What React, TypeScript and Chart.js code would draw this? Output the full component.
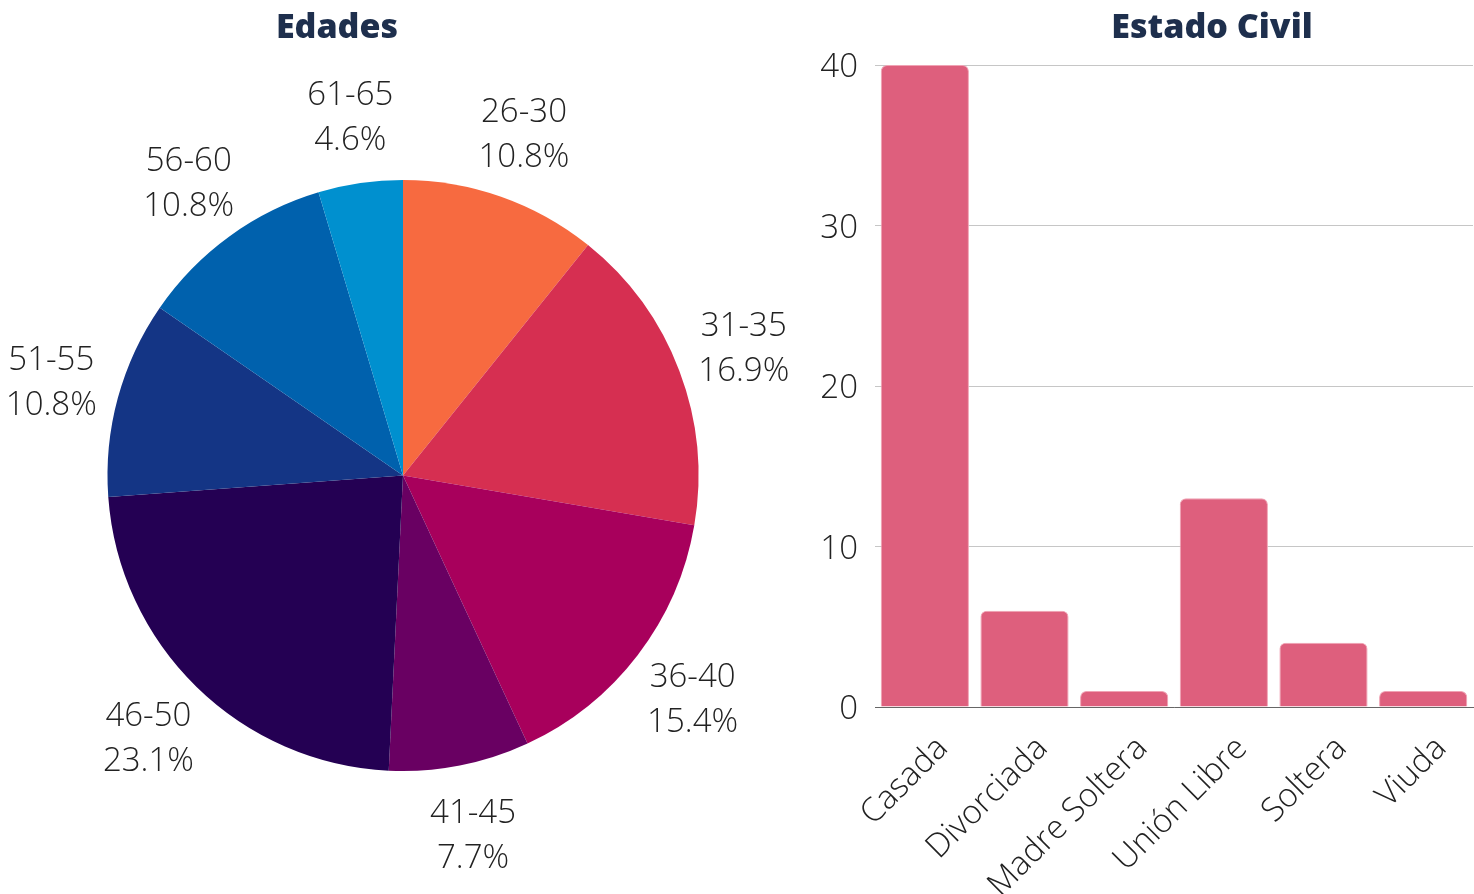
import React, { useEffect, useRef } from 'react';
import { Chart, registerables } from 'chart.js';

Chart.register(...registerables);

const ageLabels = ['26-30', '31-35', '36-40', '41-45', '46-50', '51-55', '56-60', '61-65'];
const ageCounts = [7, 11, 10, 5, 15, 7, 7, 3];
const ageColors = ['#f76a40', '#d62f51', '#a8005c', '#690062', '#240053', '#143585', '#0061ad', '#0090cf'];

const civilLabels = ['Casada', 'Divorciada', 'Madre Soltera', 'Unión Libre', 'Soltera', 'Viuda'];
const civilCounts = [40, 6, 1, 13, 4, 1];
const yTickValues = [0, 10, 20, 30, 40];

const FONT = '"Open Sans", sans-serif';
const TEXT = '#222222';
const SIZE = 33;

const pieLabelPlugin = {
  id: 'pieLabels',
  afterDatasetsDraw(chart: any) {
    const ctx = chart.ctx;
    const meta = chart.getDatasetMeta(0);
    const data = chart.data.datasets[0].data as number[];
    const total = data.reduce((a, b) => a + b, 0);
    ctx.save();
    ctx.font = `300 ${SIZE}px ${FONT}`;
    ctx.fillStyle = TEXT;
    ctx.textAlign = 'center';
    ctx.textBaseline = 'middle';
    meta.data.forEach((arc: any, i: number) => {
      const p = arc.getProps(['x', 'y', 'startAngle', 'endAngle', 'outerRadius'], true);
      const mid = (p.startAngle + p.endAngle) / 2;
      const r = p.outerRadius + 69;
      const cx = p.x + Math.cos(mid) * r;
      const cy = p.y + Math.sin(mid) * r + 3;
      const pct = ((data[i] / total) * 100).toFixed(1) + '%';
      ctx.fillText(chart.data.labels[i], cx, cy - 22.5);
      ctx.fillText(pct, cx, cy + 22.5);
    });
    ctx.restore();
  },
};

export default function App() {
  const pieRef = useRef<HTMLCanvasElement>(null);
  const barRef = useRef<HTMLCanvasElement>(null);

  useEffect(() => {
    const pie = new Chart(pieRef.current!, {
      type: 'pie',
      data: {
        labels: ageLabels,
        datasets: [{ data: ageCounts, backgroundColor: ageColors, borderWidth: 0 }],
      },
      options: {
        animation: false,
        responsive: false,
        layout: { padding: { top: 180, bottom: 123, left: 107, right: 107 } },
        plugins: { legend: { display: false }, tooltip: { enabled: false } },
      },
      plugins: [pieLabelPlugin],
    });

    const bar = new Chart(barRef.current!, {
      type: 'bar',
      data: {
        labels: civilLabels,
        datasets: [
          {
            data: civilCounts,
            backgroundColor: '#de5f7d',
            borderColor: '#f0a3b4',
            borderWidth: 1,
            borderRadius: 6,
            borderSkipped: 'bottom',
            barPercentage: 0.885,
            categoryPercentage: 1,
          },
        ],
      },
      options: {
        animation: false,
        responsive: false,
        layout: { padding: { top: 65, right: 1, left: 0, bottom: 0 } },
        plugins: { legend: { display: false }, tooltip: { enabled: false } },
        scales: {
          x: {
            grid: { display: false, drawTicks: false },
            border: { display: true, color: '#666666', width: 1 },
            ticks: {
              font: { family: FONT, size: SIZE, weight: 300 as any },
              color: TEXT,
              minRotation: 45,
              maxRotation: 45,
              autoSkip: false,
              padding: 22,
              labelOffset: 18,
            },
            afterFit: (s: any) => {
              s.height = 187;
            },
          },
          y: {
            min: 0,
            max: 40,
            afterBuildTicks: (s: any) => {
              s.ticks = yTickValues.map((v) => ({ value: v }));
            },
            grid: { color: '#c6c6c6', drawTicks: false },
            border: { display: false },
            ticks: {
              font: { family: FONT, size: SIZE, weight: 300 as any },
              color: TEXT,
              padding: 17,
              labelOffset: 3,
            },
            afterFit: (s: any) => {
              s.width = 75;
            },
          },
        },
      },
    });

    return () => {
      pie.destroy();
      bar.destroy();
    };
  }, []);

  const titleStyle: React.CSSProperties = {
    position: 'absolute',
    top: 8,
    width: 400,
    textAlign: 'center',
    fontFamily: FONT,
    fontWeight: 800,
    fontSize: 34,
    lineHeight: '34px',
    color: '#1e2f4d',
    margin: 0,
  };

  return (
    <div style={{ position: 'absolute', left: 0, top: 0, width: 1474, height: 894, background: '#fff', overflow: 'hidden' }}>
      <canvas ref={pieRef} width={806} height={894} style={{ position: 'absolute', left: 0, top: 0 }} />
      <canvas ref={barRef} width={674} height={894} style={{ position: 'absolute', left: 800, top: 0 }} />
      <div style={{ ...titleStyle, left: 337 - 200 }}>Edades</div>
      <div style={{ ...titleStyle, left: 1212 - 200 }}>Estado Civil</div>
    </div>
  );
}
